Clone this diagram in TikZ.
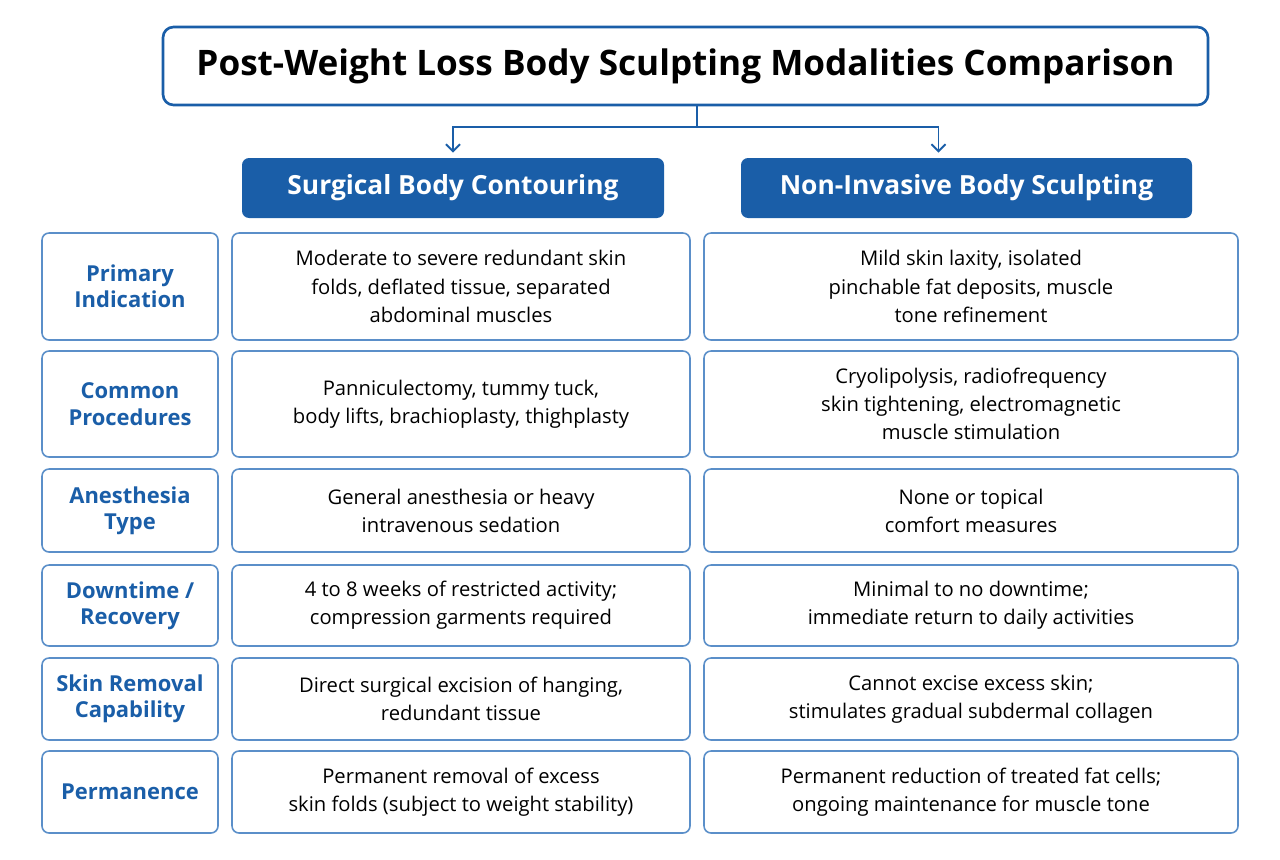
\documentclass[tikz,border=0pt]{standalone}
\usepackage{fontspec}
\setmainfont{Open Sans}
\usepackage{tikz}
\usetikzlibrary{positioning,calc,arrows.meta}
\definecolor{navy}{HTML}{1A5EA8}
\definecolor{cellline}{HTML}{5B8FC9}
\tikzset{
  cell/.style={draw=cellline,line width=0.9pt,rounded corners=4pt,align=center,inner sep=0pt},
  lab/.style={cell,font=\fontsize{12.5}{15}\selectfont\bfseries,text=navy},
  txt/.style={cell,font=\fontsize{11.5}{16}\selectfont,text=black},
  head/.style={fill=navy,rounded corners=4pt,text=white,font=\fontsize{15}{18}\selectfont\bfseries,inner sep=0pt},
  arr/.style={draw=navy,line width=1.1pt,-{Straight Barb[length=4pt,width=8pt]}}
}
\begin{document}
\begin{tikzpicture}[x=0.02cm,y=-0.02cm]
	\useasboundingbox (0,0) rectangle (1280,859);
	\node[draw=navy,line width=1.5pt,rounded corners=6pt,minimum width=1045*0.02cm,minimum height=78*0.02cm,font=\fontsize{20}{24}\selectfont\bfseries] (title) at (685.5,66) {Post-Weight Loss Body Sculpting Modalities Comparison};
	\node[head,minimum width=422*0.02cm,minimum height=60*0.02cm] (surg) at (453,188) {Surgical Body Contouring};
	\node[head,minimum width=451*0.02cm,minimum height=60*0.02cm] (noninv) at (966.5,188) {Non-Invasive Body Sculpting};
	\coordinate (split) at (697,127);
	\draw[draw=navy,line width=1.1pt] (title.south -| split) -- (split);
	\draw[arr] (split) -| ($(surg.north)+(0,-5)$);
	\draw[arr] (split) -| ($(noninv.north)+(-28,-5)$);
	% rows: top/bottom y, label, surgical, non-invasive
	\foreach \i/\t/\b/\l/\s/\n in {
		1/233/340/{Primary\\Indication}/{Moderate to severe redundant skin\\folds, deflated tissue, separated\\abdominal muscles}/{Mild skin laxity, isolated\\pinchable fat deposits, muscle\\tone refinement},
		2/351/457/{Common\\Procedures}/{Panniculectomy, tummy tuck,\\body lifts, brachioplasty, thighplasty}/{Cryolipolysis, radiofrequency\\skin tightening, electromagnetic\\muscle stimulation},
		3/469/552/{Anesthesia\\Type}/{General anesthesia or heavy\\intravenous sedation}/{None or topical\\comfort measures},
		4/565/646/{Downtime /\\Recovery}/{4 to 8 weeks of restricted activity;\\compression garments required}/{Minimal to no downtime;\\immediate return to daily activities},
		5/658/740/{Skin Removal\\Capability}/{Direct surgical excision of hanging,\\redundant tissue}/{Cannot excise excess skin;\\stimulates gradual subdermal collagen},
		6/751/833/{Permanence}/{Permanent removal of excess\\skin folds (subject to weight stability)}/{Permanent reduction of treated fat cells;\\ongoing maintenance for muscle tone}}
	{
		\node[lab,minimum width=176*0.02cm,minimum height={(\b-\t)*0.02cm}] (lab\i) at (130,{(\t+\b)/2}) {\l};
		\node[txt,minimum width=458*0.02cm,minimum height={(\b-\t)*0.02cm}] (surg\i) at (461,{(\t+\b)/2}) {\s};
		\node[txt,minimum width=534*0.02cm,minimum height={(\b-\t)*0.02cm}] (non\i) at (971,{(\t+\b)/2}) {\n};
	}
\end{tikzpicture}
\end{document}
